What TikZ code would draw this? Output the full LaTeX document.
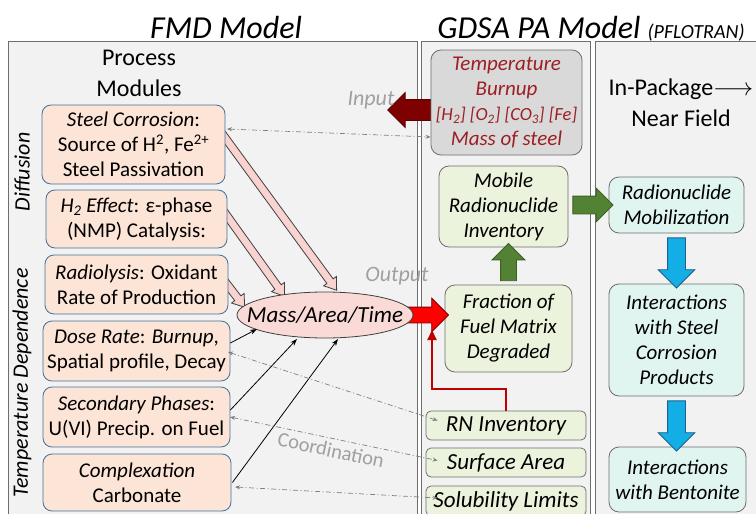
\documentclass[tikz,border=0pt]{standalone}
\usepackage{fontspec}
\setmainfont{Carlito}
\usetikzlibrary{shapes.geometric,shapes.arrows,calc,arrows.meta}
\definecolor{panelfill}{HTML}{F2F2F2}
\definecolor{panelline}{HTML}{6E6E6E}
\definecolor{procfill}{HTML}{FCE4D6}
\definecolor{procline}{HTML}{41719C}
\definecolor{ellfill}{HTML}{FADAD7}
\definecolor{pinkfill}{HTML}{F9D3CF}
\definecolor{darkline}{HTML}{404040}
\definecolor{grayfill}{HTML}{D9D9D9}
\definecolor{graytext}{HTML}{9C1F24}
\definecolor{greenfill}{HTML}{EBF3DD}
\definecolor{greenarrow}{HTML}{548235}
\definecolor{greenedge}{HTML}{3B6023}
\definecolor{cyanfill}{HTML}{E0F4F0}
\definecolor{bluearrow}{HTML}{14AEE6}
\definecolor{blueedge}{HTML}{1F5F8B}
\definecolor{inred}{HTML}{7F0000}
\definecolor{lred}{HTML}{C00000}
\definecolor{softgray}{HTML}{A0A0A0}
\definecolor{dashgray}{HTML}{7F7F7F}

\newcommand\fatarrow[4]{%
  \path let \p1=($(#2)-(#1)$), \n1={atan2(\y1,\x1)}, \n2={veclen(\x1,\y1)} in
    node (#4) [fatarrowshape, #3, rotate=\n1, minimum height=\n2] at ($(#1)!0.5!(#2)$) {};}

\tikzset{
  panel/.style={draw=panelline, fill=panelfill, line width=0.8pt},
  fatarrowshape/.style={single arrow, draw, inner xsep=0pt, minimum width=0pt, line width=0.8pt},
  arrshaft/.style={inner ysep=#1},
  arrhead/.style={single arrow head extend=#1},
  title/.style={inner sep=0pt, font=\itshape\fontsize{32}{38}\selectfont},
  heading/.style={align=center, inner sep=0pt, font=\fontsize{24}{31}\selectfont},
  sidelabel/.style={inner sep=0pt, font=\itshape\fontsize{22}{25}\selectfont},
  note/.style={inner sep=0pt, text=softgray, font=\itshape\fontsize{22}{24}\selectfont},
  proc/.style={draw=procline, fill=procfill, rounded corners=9pt, line width=0.8pt,
    align=center, inner sep=0pt, font=\fontsize{21}{25}\selectfont},
  gdsa/.style={draw=panelline, rounded corners=10pt, line width=0.8pt,
    align=center, inner sep=0pt, font=\itshape\fontsize{21}{25}\selectfont},
  small/.style={draw=panelline, fill=greenfill, rounded corners=5pt, line width=0.8pt,
    inner sep=0pt, font=\itshape\fontsize{23}{26}\selectfont},
  thinarrow/.style={-{Stealth[length=7pt,width=5pt]}, line width=0.8pt, draw=black},
  coord/.style={{Stealth[length=5pt,width=4pt]}-{Stealth[length=5pt,width=4pt]},
    draw=dashgray, line width=0.7pt, dash pattern=on 5pt off 2.5pt on 1pt off 2.5pt},
}

\begin{document}
\begin{tikzpicture}[x=1pt,y=-1pt]
\clip (0,0) rectangle (756,514);
\fill[white] (0,0) rectangle (756,514);
% panels
\draw[panel] (8,41) rectangle (417,530);
\draw[panel] (421,41) rectangle (590,530);
\draw[panel] (595,41) rectangle (770,530);
% titles
\node[title, anchor=base] (tfmd) at (226,38) {FMD Model};
\node[title, anchor=base] (tgdsa) at (591,38) {GDSA PA Model {\fontsize{20}{24}\selectfont (PFLOTRAN)}};
\node[heading] (tproc) at (139,73) {Process\\Modules};
\node[heading] (tnear) at (681,103) {In-Package$\longrightarrow$\\Near Field};
\node[sidelabel, rotate=90] (tdiff) at (22,172) {Diffusion};
\node[sidelabel, rotate=90] (ttemp) at (22,383) {Temperature Dependence};

% coordinates for arrow ends
\coordinate (p1a) at (218,128);
\coordinate (p1b) at (335,288);
\coordinate (p2a) at (220,206);
\coordinate (p2b) at (283,294);
\coordinate (p3a) at (220,275);
\coordinate (p3b) at (243,305);

% pink arrows (behind boxes)
\fatarrow{p1a}{p1b}{fill=pinkfill, draw=darkline, arrshaft=3.5pt, arrhead=4pt, single arrow tip angle=70}{pa1}
\fatarrow{p2a}{p2b}{fill=pinkfill, draw=darkline, arrshaft=3.5pt, arrhead=4pt, single arrow tip angle=70}{pa2}
\fatarrow{p3a}{p3b}{fill=pinkfill, draw=darkline, arrshaft=3.5pt, arrhead=4pt, single arrow tip angle=70}{pa3}

% process modules
\node[proc, minimum width=183, minimum height=79] (steel) at (133.5,144.5)
  {\textit{Steel Corrosion}:\\Source of H\textsuperscript{2}, Fe\textsuperscript{2+}\\Steel Passivation};
\node[proc, minimum width=181, minimum height=58] (htwo) at (136.5,219)
  {\textit{H\textsubscript{2} Effect}: ε-phase\\(NMP) Catalysis:};
\node[proc, minimum width=183, minimum height=59] (radio) at (136.5,284.5)
  {\textit{Radiolysis}: Oxidant\\Rate of Production};
\node[proc, minimum width=187, minimum height=60] (dose) at (136.5,351)
  {\textit{Dose Rate}: \textit{Burnup},\\Spatial profile, Decay};
\node[proc, minimum width=187, minimum height=60] (second) at (136.5,417)
  {\textit{Secondary Phases}:\\U(VI) Precip. on Fuel};
\node[proc, minimum width=188, minimum height=57] (complex) at (137,482.5)
  {\textit{Complexation}\\Carbonate};

% GDSA side boxes
\node[small, minimum width=160, minimum height=29] (rn) at (506,425.5) {RN Inventory};
\node[small, minimum width=160, minimum height=29] (surf) at (506,462.5) {Surface Area};
\node[small, minimum width=160, minimum height=30] (solub) at (506,501) {Solubility Limits};
\node[gdsa, fill=greenfill, minimum width=127, minimum height=87] (frac) at (508.5,328.5)
  {Fraction of\\Fuel Matrix\\Degraded};
\node[gdsa, fill=greenfill, minimum width=129, minimum height=81] (mobile) at (503.5,206.5)
  {Mobile\\Radionuclide\\Inventory};

% red output arrow (behind ellipse)
\coordinate (redtail) at (398,315);
\coordinate (redtip) at (frac.west |- redtail);
\fatarrow{redtail}{redtip}{fill=red, draw=inred, arrshaft=7.5pt, arrhead=9pt}{outarrow}

% ellipse
\node[ellipse, draw=darkline, fill=ellfill, minimum width=176, minimum height=46,
  inner sep=0pt, line width=0.8pt] (mat) at (325,315) {};
\node[inner sep=0pt, font=\itshape\fontsize{23}{26}\selectfont] (mattext) at (mat) {Mass/Area/Time};

% input arrow (behind gray box)
\coordinate (intip) at (393,110);
\coordinate (intail) at (440,110);
\fatarrow{intail}{intip}{fill=inred, draw=inred!70!black, arrshaft=10pt, arrhead=7pt}{inarrow}
\node[gdsa, fill=grayfill, text=graytext, minimum width=151, minimum height=105] (gray) at (506.5,102.5)
  {Temperature\\Burnup\\{\fontsize{18.5}{25}\selectfont [H\textsubscript{2}] [O\textsubscript{2}] [CO\textsubscript{3}] [Fe]}\\Mass of steel};

% right column
\node[gdsa, fill=cyanfill, minimum width=135, minimum height=56] (mobil) at (676.5,205)
  {Radionuclide\\Mobilization};
\node[gdsa, fill=cyanfill, minimum width=135, minimum height=112] (steelp) at (676.5,340)
  {Interactions\\with Steel\\Corrosion\\Products};
\node[gdsa, fill=cyanfill, minimum width=137, minimum height=65] (bent) at (677.5,479.5)
  {Interactions\\with Bentonite};

% green and blue arrows
\coordinate (g1a) at (mobile.east |- mobil.west);
\coordinate (g2b) at (frac.north |- mobile.south);
\coordinate (b4b) at (steelp.south |- bent.north);
\fatarrow{g1a}{mobil.west}{fill=greenarrow, draw=greenedge, arrshaft=8.5pt, arrhead=8pt}{garrow1}
\fatarrow{frac.north}{g2b}{fill=greenarrow, draw=greenedge, arrshaft=7.5pt, arrhead=8.5pt}{garrow2}
\fatarrow{mobil.south}{steelp.north}{fill=bluearrow, draw=blueedge, arrshaft=8.5pt, arrhead=9.5pt}{barrow1}
\fatarrow{steelp.south}{b4b}{fill=bluearrow, draw=blueedge, arrshaft=8.5pt, arrhead=9.5pt}{barrow2}

% red L connector
\coordinate (rcorner) at (432,389);
\coordinate (rtip) at (432,330);
\draw[lred, line width=2pt, -{Triangle[length=10pt,width=9pt]}] (rn.north) |- (rcorner) -- (rtip);

% thin black arrows
\coordinate (b1a) at ($(dose.east)+(0,-8)$);
\coordinate (b1b) at (257,329);
\coordinate (b2a) at ($(second.east)+(0,-7)$);
\coordinate (b2b) at (297,339);
\coordinate (b3a) at ($(complex.east)+(1,0)$);
\coordinate (b3b) at (338,339);
\draw[thinarrow] (b1a) -- (b1b);
\draw[thinarrow] (b2a) -- (b2b);
\draw[thinarrow] (b3a) -- (b3b);

% coordination dash-dot arrows
\coordinate (d1a) at (227,129);
\coordinate (d1b) at ($(gray.west)+(0,34.5)$);
\coordinate (d2a) at (228,352);
\coordinate (d2b) at ($(rn.west)+(12,-5)$);
\coordinate (d3a) at (230,417);
\coordinate (d3b) at ($(surf.west)+(12,-2)$);
\coordinate (d4a) at (235,487);
\coordinate (d4b) at ($(solub.west)+(12,-3)$);
\draw[coord] (d1a) -- (d1b);
\draw[coord] (d2a) -- (d2b);
\draw[coord] (d3a) -- (d3b);
\draw[coord] (d4a) -- (d4b);

% notes
\node[note] (tin) at (371,100) {Input};
\node[note] (tout) at (397,276) {Output};
\node[note, font=\fontsize{20.5}{22}\selectfont, rotate=-12] (tcoord) at (331,450) {Coordination};
\end{tikzpicture}
\end{document}
